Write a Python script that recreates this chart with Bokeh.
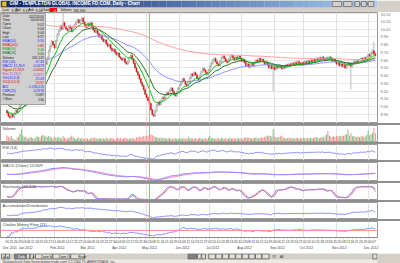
import numpy as np
import pandas as pd
from bokeh.plotting import figure
from bokeh.layouts import column
from bokeh.models import (ColumnDataSource, LinearAxis, FixedTicker, Range1d, Span,
                          Label, BoxAnnotation, Grid, Spacer, PrintfTickFormatter)
from bokeh.embed import file_html
from bokeh.resources import INLINE

FONT = "Liberation Sans"

# ------------------------------------------------------------------ data
start_date = "2011-12-16"
closes = [
    8.92, 8.88, 8.86, 8.90, 8.87, 8.91, 8.95, 8.93, 8.98, 9.02,
    9.05, 9.08, 9.12, 9.10, 9.15, 9.19, 9.17, 9.22, 9.26, 9.24,
    9.30, 9.34, 9.38, 9.35, 9.44, 9.52, 9.58, 9.55, 9.63, 9.72,
    9.78, 9.84, 9.80, 9.76, 9.85, 9.93, 9.98, 10.04, 10.00, 10.08,
    10.03, 10.00, 9.98, 10.04, 10.01, 9.97, 10.03, 10.06, 10.09, 10.12,
    10.08, 10.11, 10.14, 10.09, 10.05, 10.02, 10.07, 10.04, 10.08, 10.03,
    9.99, 9.96, 9.98, 9.94, 9.90, 9.92, 9.87, 9.84, 9.86, 9.81,
    9.78, 9.80, 9.75, 9.72, 9.74, 9.70, 9.67, 9.69, 9.64, 9.62,
    9.60, 9.62, 9.57, 9.55, 9.58, 9.63, 9.66, 9.61, 9.56, 9.50,
    9.45, 9.41, 9.36, 9.31, 9.27, 9.22, 9.16, 9.12, 9.08, 9.04,
    8.96, 8.90, 8.88, 8.95, 9.02, 9.06, 9.03, 9.08, 9.12, 9.10,
    9.15, 9.18, 9.16, 9.21, 9.24, 9.20, 9.16, 9.14, 9.19, 9.24,
    9.28, 9.32, 9.36, 9.33, 9.29, 9.27, 9.32, 9.37, 9.42, 9.40,
    9.44, 9.41, 9.37, 9.35, 9.40, 9.45, 9.49, 9.47, 9.44, 9.42,
    9.47, 9.52, 9.56, 9.60, 9.62, 9.58, 9.55, 9.53, 9.58, 9.63,
    9.65, 9.62, 9.59, 9.57, 9.61, 9.64, 9.66, 9.63, 9.60, 9.64,
    9.61, 9.65, 9.62, 9.59, 9.61, 9.57, 9.53, 9.55, 9.51, 9.54,
    9.56, 9.53, 9.57, 9.60, 9.58, 9.62, 9.59, 9.61, 9.58, 9.55,
    9.57, 9.54, 9.50, 9.53, 9.49, 9.51, 9.48, 9.52, 9.50, 9.53,
    9.51, 9.49, 9.52, 9.50, 9.54, 9.52, 9.55, 9.53, 9.56, 9.54,
    9.57, 9.55, 9.58, 9.56, 9.54, 9.57, 9.55, 9.58, 9.56, 9.59,
    9.57, 9.60, 9.58, 9.61, 9.59, 9.62, 9.60, 9.63, 9.61, 9.64,
    9.62, 9.60, 9.63, 9.61, 9.64, 9.62, 9.59, 9.61, 9.58, 9.55,
    9.57, 9.53, 9.55, 9.52, 9.54, 9.50, 9.53, 9.56, 9.54, 9.52,
    9.55, 9.58, 9.56, 9.59, 9.57, 9.60, 9.62, 9.60, 9.63, 9.61,
    9.64, 9.67, 9.65, 9.69, 9.72, 9.68, 9.66,
]
volume_k = [
    260, 210, 180, 240, 150, 120, 90, 170, 200, 320,
    480, 260, 190, 220, 170, 150, 210, 180, 160, 140,
    190, 230, 200, 170, 250, 280, 220, 260, 200, 240,
    210, 180, 150, 220, 190, 170, 200, 160, 150, 230,
    180, 150, 140, 170, 210, 260, 190, 150, 130, 160,
    180, 140, 170, 150, 130, 160, 140, 120, 150, 170,
    160, 190, 150, 140, 170, 130, 160, 150, 140, 180,
    150, 130, 170, 160, 140, 120, 150, 170, 140, 160,
    150, 140, 180, 160, 130, 150, 140, 170, 150, 140,
    180, 200, 220, 190, 210, 240, 230, 260, 250, 280,
    300, 270, 240, 210, 190, 170, 160, 180, 150, 170,
    160, 140, 150, 170, 130, 150, 140, 160, 150, 130,
    170, 150, 140, 160, 130, 150, 220, 140, 160, 150,
    140, 160, 130, 150, 170, 140, 150, 130, 160, 140,
    180, 250, 160, 170, 150, 140, 160, 150, 130, 170,
    150, 140, 160, 130, 150, 170, 140, 160, 150, 140,
    170, 150, 160, 140, 150, 180, 200, 170, 190, 160,
    150, 170, 160, 180, 150, 170, 160, 190, 170, 200,
    230, 260, 250, 250, 220, 480, 210, 190, 170, 200,
    230, 260, 180, 170, 150, 160, 180, 150, 170, 160,
    150, 170, 160, 140, 180, 150, 170, 160, 150, 170,
    160, 180, 150, 170, 200, 190, 170, 160, 180, 210,
    190, 230, 300, 420, 260, 220, 200, 230, 210, 240,
    220, 250, 230, 260, 240, 280, 300, 460, 260, 350,
    230, 250, 210, 200, 230, 190, 220, 240, 210, 230,
    270, 430, 260, 300, 350, 540, 336,
]
first_open = 8.95
wick = 0.015
high_spikes = {39: 10.20, 255: 9.84}
low_spikes = {185: 9.20, 239: 9.22}
ema_periods = [10, 20, 50, 200]
ema_start = [8.95, 9.05, 10.40, 10.34]
rsi_seed = (0.03, 0.03)
price_ticks = [8.90, 9.00, 9.10, 9.20, 9.30, 9.40, 9.50, 9.60, 9.70, 9.80,
               9.90, 10.00, 10.10, 10.20]
crosshair_date = "2012-05-03"
crosshair_price = 9.18
title_text = "GIM - TEMPLETON GLOBAL INCOME FD COM, Daily - Chart"
status_names = ["Last", "Bid", "Ask", "Change", "Volume"]
status_values = ["9.18", "9.17", "9.18", "-0.11", "336,300"]
info_names = ["Date", "Time", "Open", "Close", "High", "Low", "EMA(50)", "EMA(200)",
              "EMA(10)", "EMA(20)", "Volume", "RSI (14)", "MACD 12,26,9",
              "Signal 12,26,9", "Hist 12,26,9", "%K(14,3,3)", "%D(14,3,3)", "A/D",
              "CMF(21)", "Position", "# Bars"]
info_values = ["20120503", "00:00:00", "9.02", "9.04", "9.04", "8.97", "9.55", "9.85",
               "9.40", "9.50", "205,119", "47.33", "-0.0573", "-0.0502", "-0.0071",
               "25.03", "23.92", "-1,234,215", "-0.0978", "9.087", "230"]
panel_titles = ["Volume", "RSI (14)", "MACD (Close) 12/26/9", "Stochastic (14,3,3)",
                "Accumulation/Distribution", "Chaikin Money Flow (21)"]
footer_text = "StrategyDesk (http://www.tdameritrade.com) (C) 2000 TD AMERITRADE, Inc."

# ------------------------------------------------------------------ derived
N = len(closes)
dates = pd.bdate_range(start_date, periods=N)
idx = np.arange(N)
c = np.array(closes, float)
o = np.array([first_open] + closes[:-1], float)
h = np.maximum(o, c) + wick
l = np.minimum(o, c) - wick
for k, v in high_spikes.items():
    h[k] = v
for k, v in low_spikes.items():
    l[k] = v
vol = np.array(volume_k, float) * 1000
up = c >= o


def ema(vals, n, start):
    a = 2.0 / (n + 1)
    e = start
    out = []
    for v in vals:
        e += a * (v - e)
        out.append(e)
    return np.array(out)


emas = {n: ema(c, n, s) for n, s in zip(ema_periods, ema_start)}

ag, al = rsi_seed
rsi = []
for dd in np.diff(c, prepend=c[0]):
    ag = (ag * 13 + max(dd, 0)) / 14
    al = (al * 13 + max(-dd, 0)) / 14
    rsi.append(100 * ag / (ag + al))
rsi = np.array(rsi)

cs = pd.Series(c)
macd = (cs.ewm(span=12, adjust=False).mean() - cs.ewm(span=26, adjust=False).mean()).to_numpy()
signal = pd.Series(macd).ewm(span=9, adjust=False).mean().to_numpy()

hh = pd.Series(h).rolling(14, min_periods=1).max()
ll = pd.Series(l).rolling(14, min_periods=1).min()
rawk = 100 * (cs - ll) / (hh - ll)
stk = rawk.rolling(3, min_periods=1).mean().to_numpy()
std = pd.Series(stk).rolling(3, min_periods=1).mean().to_numpy()

clv = ((c - l) - (h - c)) / (h - l)
ad = np.cumsum(clv * vol)
cmf = (pd.Series(clv * vol).rolling(21, min_periods=1).sum()
       / pd.Series(vol).rolling(21, min_periods=1).sum()).to_numpy()

month_starts = [i for i in range(1, N) if dates[i].month != dates[i - 1].month]
cross_idx = int(dates.get_loc(pd.Timestamp(crosshair_date)))

W, FW, GUT = 400, 377, 23
xr = Range1d(-4.5, 257.5)


def lab(p, x, y, text, size="4px", color="#000000", align="left", baseline="middle",
        xu="screen", yu="screen", bold=False, bg=None):
    p.add_layout(Label(x=x, y=y, x_units=xu, y_units=yu, text=text, text_font=FONT,
                       text_font_size=size, text_color=color, text_align=align,
                       text_baseline=baseline,
                       text_font_style="bold" if bold else "normal",
                       background_fill_color=bg))


def box(p, left, right, bottom, top, color, line=None, units="data", yunits=None):
    yunits = yunits or units
    p.add_layout(BoxAnnotation(left=left, right=right, bottom=bottom, top=top,
                               left_units=units, right_units=units,
                               bottom_units=yunits, top_units=yunits,
                               fill_color=color, fill_alpha=1.0,
                               line_color=line, line_alpha=1.0 if line else 0))


def gutter_tag(p, yr, frame_h, yval, text, color, half_px=1.8):
    """coloured value tag in the right gutter, centred on a data value"""
    dy = half_px * (yr.end - yr.start) / frame_h
    box(p, FW + 1, FW + 22, yval - dy, yval + dy, color, units="screen", yunits="data")
    lab(p, FW + 2.5, yval, text, size="3.3px", color="white", yu="data")


def bare(height, xrange, yrange):
    p = figure(width=W, height=height, x_range=xrange, y_range=yrange,
               output_backend="svg", toolbar_location=None,
               x_axis_location=None, y_axis_location=None, min_border=0)
    p.outline_line_color = None
    p.xgrid.visible = False
    p.ygrid.visible = False
    p.background_fill_color = "#d4d0c8"
    p.border_fill_color = "#d4d0c8"
    return p


def panel(height, yr, title=None):
    p = figure(width=W, height=height, x_range=xr, y_range=yr, output_backend="svg",
               toolbar_location=None, x_axis_location=None, y_axis_location=None,
               min_border_left=0, min_border_right=GUT, min_border_top=0,
               min_border_bottom=0)
    p.background_fill_color = "white"
    p.border_fill_color = "white"
    p.outline_line_color = "#9a9a9a"
    p.xgrid.visible = False
    p.ygrid.visible = False
    p.add_layout(Grid(dimension=0, ticker=FixedTicker(ticks=month_starts),
                      grid_line_color="#e2e2e2"))
    p.add_layout(Span(location=cross_idx, dimension="height", line_color="#ff8a8a",
                      line_width=1))
    if title:
        lab(p, 2, yr.end, title, size="4px", color="#404040", baseline="top", yu="data")
    return p


def padded(arrs, lo_pad=0.1, hi_pad=0.4):
    lo = min(float(np.nanmin(a)) for a in arrs)
    hi = max(float(np.nanmax(a)) for a in arrs)
    s = hi - lo
    return Range1d(lo - lo_pad * s, hi + hi_pad * s)


# ------------------------------------------------------------------ header
hdr = bare(12, Range1d(0, 400), Range1d(0, 12))
c0, c1 = np.array([10, 36, 106]), np.array([166, 202, 240])
for k in range(50):
    t = k / 49
    col = tuple(int(v) for v in c0 + (c1 - c0) * t)
    box(hdr, k * 8, k * 8 + 8, 5, 12, "#%02x%02x%02x" % col)
box(hdr, 1.5, 6.5, 6, 11, "#e0c040", line="#806010")
lab(hdr, 9, 8.6, title_text, size="4.6px", color="white", bold=True)
for (x0, x1, t) in [(352, 362, "Sync"), (364, 373, "Mkt"), (376, 381, "_"),
                    (383, 388, "\u25a1"), (390, 396, "x")]:
    box(hdr, x0, x1, 6, 11, "#d4d0c8", line="#808080")
    lab(hdr, (x0 + x1) / 2, 8.5, t, size="3.2px", align="center")
box(hdr, 0, 400, 0, 5, "#d4d0c8")
sx = [2, 15, 28, 41, 60]
for k, (n_, v_) in enumerate(zip(status_names, status_values)):
    lab(hdr, sx[k], 2.5, n_, size="3.3px", color="#202020")
    if n_ == "Change":
        box(hdr, sx[k] + 11, sx[k] + 19, 0.5, 4.5, "#ff0000")
        lab(hdr, sx[k] + 15, 2.5, v_, size="3.3px", color="white", align="center")
    else:
        lab(hdr, sx[k] + len(n_) * 1.9 + 1.5, 2.5, v_, size="3.3px", color="#202020")

# ------------------------------------------------------------------ main
MAIN_H = 111
mr_ = Range1d(8.784, 10.213)
main = panel(MAIN_H, mr_)
main.add_layout(Grid(dimension=1, ticker=FixedTicker(ticks=price_ticks),
                     grid_line_color="#e6e6e6"))
ax = LinearAxis(ticker=FixedTicker(ticks=price_ticks),
                formatter=PrintfTickFormatter(format="%.2f"),
                major_label_text_font_size="4px", major_label_text_color="#707070",
                major_label_text_font=FONT, major_tick_out=0, major_tick_in=0,
                minor_tick_out=0, minor_tick_in=0, axis_line_color=None,
                major_label_standoff=3)
main.add_layout(ax, "right")

src = ColumnDataSource(dict(
    x=idx, h=h, l=l, top=np.maximum(o, c), bottom=np.minimum(o, c),
    fill=np.where(up, "#ffffff", "#e81818"), line=np.where(up, "#8a8a8a", "#d01010")))
main.segment(x0="x", y0="l", x1="x", y1="h", source=src, line_color="#a8a8a8",
             line_width=0.8)
main.vbar(x="x", width=0.7, top="top", bottom="bottom", source=src,
          fill_color="fill", line_color="line", line_width=0.5)
ema_colors = {10: "#10c010", 20: "#207020", 50: "#8c8cff", 200: "#ff9c9c"}
for n in [200, 50, 20, 10]:
    main.line(idx, emas[n], line_color=ema_colors[n], line_width=1)

box(main, 0, 45, 19, 110, "#d0d0d0", line="#a0a0a0", units="screen")
info_colors = ["#202020"] * 6 + ["#2020ff", "#e00000", "#00a000", "#006000", "#202020",
                                 "#2020ff", "#2020ff", "#e00000", "#c040c0", "#2020ff",
                                 "#e00000", "#2020ff", "#2020ff", "#202020", "#202020"]
for k, (n_, v_) in enumerate(zip(info_names, info_values)):
    y = 107.5 - 4.15 * k
    lab(main, 2, y, n_, size="3.4px", color=info_colors[k])
    lab(main, 43.5, y, v_, size="3.4px", color=info_colors[k], align="right")

gut = [(10, "#00a000", 64), (200, "#e00000", 60.5), (50, "#2020ff", 57), (20, "#008000", 53.5)]
for n, colr, yy in gut:
    box(main, FW + 1, FW + 22, yy - 1.75, yy + 1.75, colr, units="screen")
    lab(main, FW + 2.5, yy, "%.2f" % emas[n][-1], size="3.3px", color="white")
gutter_tag(main, mr_, MAIN_H, crosshair_price, "%.2f" % crosshair_price, "#000000")

# ------------------------------------------------------------------ volume
vr = Range1d(0, max(volume_k) * 1.15)
pv = panel(17, vr, panel_titles[0])
pv.vbar(x=idx, top=vol / 1000, width=0.7,
        fill_color=np.where(up, "#80bc80", "#f49494").tolist(), line_color=None)
tag_y = vr.end - 2.2 * (vr.end - vr.start) / 17
gutter_tag(pv, vr, 17, tag_y, status_values[4], "#ff0000")

# ------------------------------------------------------------------ RSI
rr = Range1d(0, 108)
pr = panel(16, rr, panel_titles[1])
pr.line(idx, rsi, line_color="#8c8cff", line_width=1)
lab(pr, FW + 3, 100, "100.00", size="3.2px", color="#909090", yu="data")
gutter_tag(pr, rr, 16, rsi[-1], "%.2f" % rsi[-1], "#0000ff")

# ------------------------------------------------------------------ MACD
mr = padded([macd, signal])
pm = panel(19, mr, panel_titles[2])
pm.line(idx, signal, line_color="#ff80c0", line_width=1)
pm.line(idx, macd, line_color="#8c8cff", line_width=1)
gutter_tag(pm, mr, 19, signal[-1], "%.4f" % signal[-1], "#ff0000", 1.6)
gutter_tag(pm, mr, 19, macd[-1], "%.4f" % macd[-1], "#0000ff", 1.6)

# ------------------------------------------------------------------ Stochastic
sr = Range1d(-4, 118)
ps = panel(17, sr, panel_titles[3])
ps.line(idx, std, line_color="#ff6060", line_width=1)
ps.line(idx, stk, line_color="#8c8cff", line_width=1)
lab(ps, FW + 3, 100, "100.00", size="3.2px", color="#909090", yu="data")
gutter_tag(ps, sr, 17, std[-1], "%.2f" % std[-1], "#ff0000", 1.6)
gutter_tag(ps, sr, 17, stk[-1], "%.2f" % stk[-1], "#0000ff", 1.6)

# ------------------------------------------------------------------ A/D
adr = padded([ad], 0.15, 0.45)
pa = panel(17, adr, panel_titles[4])
pa.line(idx, ad, line_color="#8c8cff", line_width=1)
gutter_tag(pa, adr, 17, ad[-1], "{:,.0f}".format(ad[-1]), "#0000ff")

# ------------------------------------------------------------------ CMF
cr = padded([cmf, [0.0]], 0.1, 0.4)
pc = panel(31, cr, panel_titles[5])
pc.add_layout(Span(location=0, dimension="width", line_color="#ff9090", line_width=1))
pc.line(idx, cmf, line_color="#8c8cff", line_width=1)
gutter_tag(pc, cr, 21, cmf[-1], "%.4f" % cmf[-1], "#0000ff")

day_ticks = list(range(0, N, 3))
ax_d = LinearAxis(ticker=FixedTicker(ticks=day_ticks),
                  major_label_overrides={i: dates[i].strftime("%d") for i in day_ticks},
                  major_label_text_font_size="3.4px", major_label_text_font=FONT,
                  major_label_text_color="#404040", major_tick_out=1, major_tick_in=0,
                  minor_tick_out=0, minor_tick_in=0, axis_line_color="#909090",
                  major_tick_line_color="#909090", major_label_standoff=1)
pc.add_layout(ax_d, "below")
mlab_ticks = [0] + month_starts
ax_m = LinearAxis(ticker=FixedTicker(ticks=[m + 2 for m in mlab_ticks]),
                  major_label_overrides={m + 2: dates[m].strftime("%b %Y") for m in mlab_ticks},
                  major_label_text_font_size="3.4px", major_label_text_font=FONT,
                  major_label_text_color="#404040", major_tick_out=0, major_tick_in=0,
                  minor_tick_out=0, minor_tick_in=0, axis_line_color=None,
                  major_tick_line_color=None, major_label_standoff=0)
pc.add_layout(ax_m, "below")

# ------------------------------------------------------------------ footer
ftr = bare(11, Range1d(0, 400), Range1d(0, 11))
box(ftr, 0, 400, 0, 5, "#ece9e4")
lab(ftr, 2, 2.5, footer_text, size="3.3px", color="#404040")
btns = [(1, 5, "\u25c4"), (5.5, 9.5, "\u25ba"), (15, 27, "Daily"), (27.5, 31, "\u25c4"),
        (31.5, 35, "\u25ba"), (37, 55, "Zoom In"), (55.5, 74, "Zoom Out"),
        (74.5, 89, "Reset"), (199, 208, "Sync"), (209, 213, "\u25c4"), (213.5, 217.5, "\u25ba"),
        (221, 228, "1D"), (228.5, 235, "5D"), (235.5, 242, "1M"), (242.5, 249, "3M"),
        (249.5, 256, "6M"), (256.5, 263, "1Y"), (263.5, 270, "2Y"), (270.5, 277, "5Y"),
        (277.5, 285, "All"), (395, 399.5, "\u25ba")]
for x0, x1, t in btns:
    dark = t in ("Daily", "Sync")
    box(ftr, x0, x1, 5.6, 10.6, "#808080" if dark else "#e4e0d8", line="#707070")
    lab(ftr, (x0 + x1) / 2, 8.1, t, size="3px", color="white" if dark else "#202020",
        align="center")


def sep():
    return Spacer(width=W, height=2, styles={"background-color": "#8e8e8e"})


layout = column(hdr, main, sep(), pv, sep(), pr, sep(), pm, sep(), ps, sep(), pa, sep(),
                pc, ftr, spacing=0)
open("out.html", "w").write(file_html(layout, INLINE))
